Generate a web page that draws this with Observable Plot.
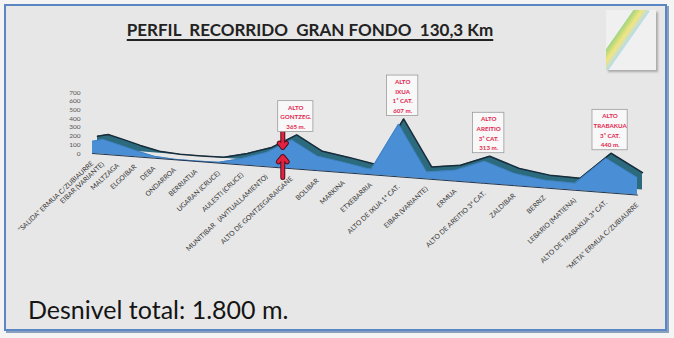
<!DOCTYPE html>
<html>
<head>
<meta charset="utf-8">
<script src="https://cdn.jsdelivr.net/npm/d3@7"></script>
<script src="https://cdn.jsdelivr.net/npm/@observablehq/plot@0.6"></script>
<style>
  html, body { margin: 0; padding: 0; background: #f4f4f4; }
  #page { position: relative; width: 674px; height: 338px; overflow: hidden; background: #f4f4f4; }
  #frame { position: absolute; left: 4px; top: 4px; width: 663px; height: 327px; box-sizing: border-box;
           border: 2px solid #5b86c4; background: #e7e7e7; box-shadow: 2px 2px 0 #8aa0bf; }
  #title { position: absolute; left: 0; top: 19px; width: 620px; text-align: center; white-space: pre;
           font-family: "Lato"; font-weight: 700; font-size: 17px; color: #222;
           text-decoration: underline; text-decoration-thickness: 1.5px; text-underline-offset: 3px; }
  #caption { position: absolute; left: 28px; top: 297px; font-family: "Lato"; font-size: 25px; color: #151515; line-height: 1; }
  #logo { position: absolute; left: 606px; top: 10px; width: 50px; height: 60px; background: #f0f0f0;
          box-shadow: 2px 2px 2px #aaa; overflow: hidden; }
  #logo div { position: absolute; left: 8px; top: -10px; width: 14px; height: 80px; transform: rotate(35deg);
          background: linear-gradient(90deg, #8fd06a, #f3e36a, #a9d8f0); opacity: .85; }
  #chart { position: absolute; left: 0; top: 0; }
  #chart svg text { white-space: pre; }
</style>
</head>
<body>
<div id="page">
  <div id="frame"></div>
  <div id="logo"><div></div></div>
  <div id="title">PERFIL  RECORRIDO  GRAN FONDO  130,3 Km</div>
  <div id="caption">Desnivel total: 1.800 m.</div>
  <div id="chart"></div>
</div>
<script>
// ---- data ----
const categories = [
  "\"SALIDA\" ERMUA C/ZUBIAURRE",
  "EIBAR (VARIANTE)",
  "MALTZAGA",
  "ELGOIBAR",
  "DEBA",
  "ONDARROA",
  "BERRIATUA",
  "UGARAN (CRUCE)",
  "AULESTI (CRUCE)",
  "MUNITIBAR   (AVITUALLAMIENTO)",
  "ALTO DE GONTZEGARAIGANE",
  "BOLIBAR",
  "MARKINA",
  "ETXEBARRIA",
  "ALTO DE IXUA 1ª CAT.",
  "EIBAR (VARIANTE)",
  "ERMUA",
  "ALTO DE AREITIO 3ª CAT.",
  "ZALDIBAR",
  "BERRIZ",
  "LEBARIO (MATIENA)",
  "ALTO DE TRABAKUA 3ª CAT.",
  "\"META\" ERMUA C/ZUBIAURRE"
];
const elevations = [140, 170, 127, 73, 22, 5, 5, 10, 75, 165, 330, 165, 118, 60, 607, 80, 125, 255, 140, 90, 80, 395, 200];
const yTicks = [0, 100, 200, 300, 400, 500, 600, 700];
const peakLabels = [
  {i: 10, lines: ["ALTO", "GONTZEG.", "365 m."]},
  {i: 14, lines: ["ALTO", "IXUA", "1ª CAT.", "607 m."]},
  {i: 17, lines: ["ALTO", "AREITIO", "3ª CAT.", "313 m."]},
  {i: 21, lines: ["ALTO", "TRABAKUA", "3ª CAT.", "440 m."]}
];
const markerArrows = [ {i: 10, from: 264, to: 69}, {i: 10, from: -275, to: -34} ];

// ---- 3D-like floor: the baseline recedes (perspective tilt) ----
const N = categories.length - 1;
const EXP = 1.276;
const TILT = 477; // floor drop, in metres of the y scale, across the whole profile
const base = i => -TILT * Math.pow(i / N, EXP);

const rows = categories.map((name, i) => ({i, name, base: base(i), top: base(i) + elevations[i]}));

const GAP = 8;
const annotationMarks = peakLabels.flatMap(p => {
  const maxLen = d3.max(p.lines, s => s.length);
  const w = maxLen * 3.9 + 4;
  const h = p.lines.length * 9.6 + 2;
  const row = rows[p.i];
  return [
    Plot.rect([row], {x1: "i", x2: "i", y1: "top", y2: "top", dx: 4,
      insetLeft: -w / 2, insetRight: -w / 2, insetTop: -(GAP + h), insetBottom: GAP,
      fill: "#f8f8f8", stroke: "#9c9c9c", strokeWidth: 0.8}),
    Plot.text([row], {x: "i", y: "top", dx: 4, dy: -(GAP + 3), text: () => p.lines.join("\n"),
      lineAnchor: "bottom", lineHeight: 1.55, fontSize: 6.2, fontWeight: "bold", fill: "#e3254d"})
  ];
});

const chart = Plot.plot({
  width: 674,
  height: 338,
  x: {type: "pow", exponent: EXP, domain: [0, N], range: [92, 637], axis: null},
  y: {domain: [0, 700], range: [153, 92], axis: null},
  style: {background: "transparent", fontFamily: "Lato", overflow: "visible"},
  marks: [
    // back (depth) face
    Plot.areaY(rows, {x: "i", y1: "base", y2: "top", dx: 5, dy: -5, fill: "#2c6a7e"}),
    Plot.line(rows, {x: "i", y: "top", dx: 5, dy: -5, stroke: "#182c3a", strokeWidth: 1.5}),
    // front face
    Plot.areaY(rows, {x: "i", y1: "base", y2: "top", fill: "#4a8fd5"}),
    Plot.line(rows, {x: "i", y: "top", stroke: "#3c7dbd", strokeWidth: 0.8}),
    Plot.line(rows, {x: "i", y: "base", stroke: "#1f3550", strokeWidth: 1}),
    // y tick labels
    Plot.text(yTicks, {x: () => 0, y: d => d, text: d => String(d), textAnchor: "end", dx: -12,
      fontSize: 6.5, fill: "#555"}),
    // category labels along the receding floor
    Plot.text(rows, {x: "i", y: "base", text: "name", rotate: -43, textAnchor: "end", dx: 0, dy: 9,
      fontSize: 6.8, fill: "#333"}),
    // red arrows
    Plot.arrow(markerArrows, {x1: "i", x2: "i", y1: "from", y2: "to", dx: -9, stroke: "#4a1020",
      strokeWidth: 5, headLength: 7, headAngle: 80}),
    Plot.arrow(markerArrows, {x1: "i", x2: "i", y1: "from", y2: "to", dx: -9, stroke: "#e3223f",
      strokeWidth: 3, headLength: 6, headAngle: 80}),
    ...annotationMarks
  ]
});
document.getElementById("chart").append(chart);
</script>
</body>
</html>
